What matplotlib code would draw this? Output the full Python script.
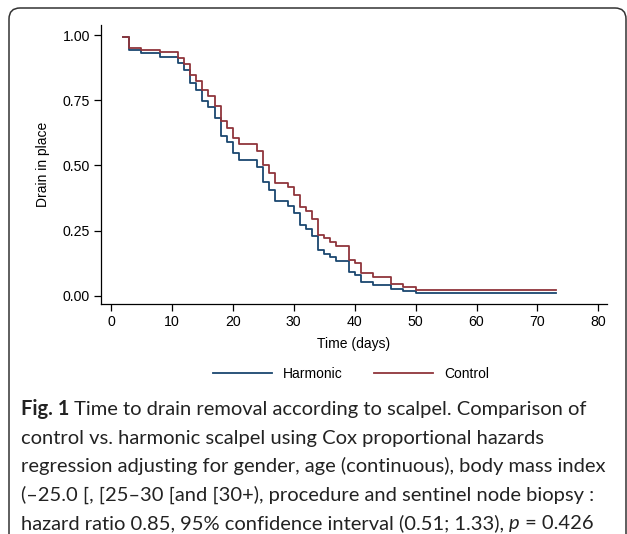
import matplotlib.pyplot as plt
from matplotlib.patches import FancyBboxPatch

# Kaplan-Meier style step data
days_harmonic = [2, 3, 5, 8, 11, 12, 13, 14, 15, 16, 17, 18, 19, 20, 21, 24, 25, 26, 27,
                 29, 30, 31, 32, 33, 34, 35, 36, 37, 39, 40, 41, 43, 46, 48, 50, 73]
surv_harmonic = [0.993, 0.944, 0.932, 0.917, 0.894, 0.867, 0.815, 0.788, 0.748, 0.723,
                 0.681, 0.613, 0.589, 0.549, 0.520, 0.492, 0.436, 0.404, 0.362, 0.345,
                 0.317, 0.270, 0.257, 0.228, 0.176, 0.160, 0.148, 0.135, 0.090, 0.080,
                 0.051, 0.042, 0.026, 0.019, 0.010, 0.010]

days_control = [2, 3, 5, 8, 11, 12, 13, 14, 15, 16, 17, 18, 19, 20, 21, 24, 25, 26, 27,
                29, 30, 31, 32, 33, 34, 35, 36, 37, 39, 40, 41, 43, 46, 48, 50, 73]
surv_control = [0.993, 0.951, 0.943, 0.934, 0.911, 0.889, 0.846, 0.823, 0.789, 0.766,
                0.729, 0.670, 0.645, 0.606, 0.582, 0.557, 0.502, 0.472, 0.432, 0.416,
                0.387, 0.342, 0.326, 0.294, 0.234, 0.221, 0.206, 0.192, 0.138, 0.125,
                0.087, 0.072, 0.045, 0.033, 0.023, 0.023]

xticks = [0, 10, 20, 30, 40, 50, 60, 70, 80]
yticks = [0, 0.25, 0.5, 0.75, 1.0]

blue = '#1a476f'
red = '#90353b'

plt.rcParams['font.family'] = ['Liberation Sans', 'DejaVu Sans']

fig = plt.figure(figsize=(6.27, 5.34), dpi=100)
ax = fig.add_axes([0.161, 0.431, 0.807, 0.522])

ax.step(days_harmonic, surv_harmonic, where='post', color=blue, lw=1.3, label='Harmonic')
ax.step(days_control, surv_control, where='post', color=red, lw=1.3, label='Control')

ax.set_xlim(-1.64, 81.4)
ax.set_ylim(-0.031, 1.038)
ax.set_xticks(xticks)
ax.set_yticks(yticks)
ax.set_yticklabels(['0.00', '0.25', '0.50', '0.75', '1.00'])
ax.spines['top'].set_visible(False)
ax.spines['right'].set_visible(False)
for s in ['left', 'bottom']:
    ax.spines[s].set_linewidth(0.9)
ax.tick_params(length=5, width=0.9, labelsize=10.2, pad=3)
ax.set_xlabel('Time (days)', fontsize=10, labelpad=6)
ax.set_ylabel('Drain in place', fontsize=10, labelpad=9)

fig.legend(loc='center', bbox_to_anchor=(351 / 627, 1 - 374 / 534), ncol=2,
           frameon=False, fontsize=10, handlelength=4.3, columnspacing=2.2,
           handletextpad=0.8)

# rounded frame around the figure
frame = FancyBboxPatch((9, -20), 617, 534 - 8 + 20, boxstyle='round,pad=0,rounding_size=11',
                       transform=None, fill=False, edgecolor='#333333', lw=1.1)
fig.patches.append(frame)

# caption
cap_font = ['Lato', 'DejaVu Sans']
cap_size = 14.5
renderer = fig.canvas.get_renderer()


def put_line(pieces, y):
    x = 21
    for txt, weight, style in pieces:
        t = fig.text(x / 627, 1 - y / 534, txt, fontsize=cap_size, family=cap_font,
                     weight=weight, style=style, va='baseline', ha='left', color='#222222')
        x = t.get_window_extent(renderer).x1


put_line([('Fig. 1', 'bold', 'normal'),
          (' Time to drain removal according to scalpel. Comparison of', 'normal', 'normal')], 415)
put_line([('control vs. harmonic scalpel using Cox proportional hazards', 'normal', 'normal')], 444)
put_line([('regression adjusting for gender, age (continuous), body mass index', 'normal', 'normal')], 472)
put_line([('(\u201325.0 [, [25\u201330 [and [30+), procedure and sentinel node biopsy :', 'normal', 'normal')], 501)
put_line([('hazard ratio 0.85, 95% confidence interval (0.51; 1.33), ', 'normal', 'normal'),
          ('p', 'normal', 'italic'),
          (' = 0.426', 'normal', 'normal')], 529)

fig.savefig('out.png', dpi=100)
